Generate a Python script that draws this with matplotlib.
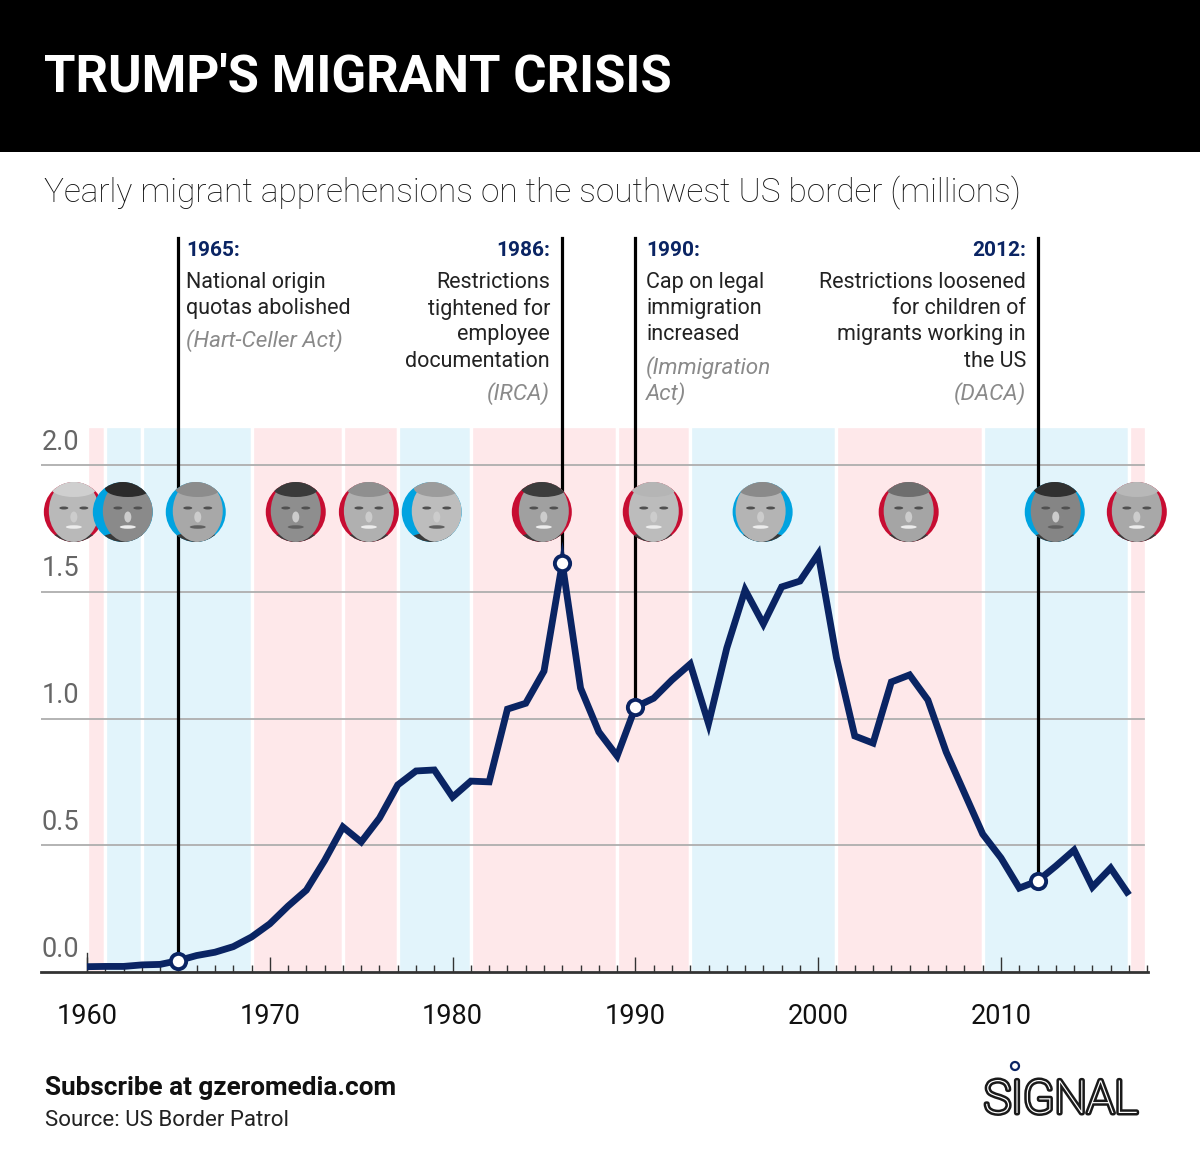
import matplotlib
matplotlib.use('Agg')
import matplotlib.pyplot as plt
from matplotlib import patheffects as pe
from matplotlib.patches import Circle, Ellipse, Rectangle
from matplotlib.transforms import IdentityTransform

# Apprehensions per year, millions
years = list(range(1960, 2018))
apprehensions = [0.021, 0.022, 0.022, 0.028, 0.030, 0.045, 0.065, 0.078, 0.100, 0.138,
                 0.190, 0.260, 0.323, 0.440, 0.572, 0.513, 0.607, 0.738, 0.793, 0.797,
                 0.690, 0.753, 0.750, 1.037, 1.060, 1.187, 1.613, 1.120, 0.947, 0.852,
                 1.045, 1.080, 1.152, 1.215, 0.980, 1.278, 1.507, 1.373, 1.519, 1.542,
                 1.649, 1.239, 0.931, 0.903, 1.144, 1.172, 1.073, 0.868, 0.706, 0.544,
                 0.450, 0.331, 0.359, 0.418, 0.481, 0.335, 0.410, 0.304]

# Presidential terms: start, end, party
term_start = [1960, 1961, 1963, 1969, 1974, 1977, 1981, 1989, 1993, 2001, 2009, 2017]
term_end = [1961, 1963, 1969, 1974, 1977, 1981, 1989, 1993, 2001, 2009, 2017, 2017.95]
term_party = ['R', 'D', 'D', 'R', 'R', 'D', 'R', 'R', 'D', 'R', 'D', 'R']

# Portrait discs, one per president
portrait_x = [1959.28, 1961.96, 1965.95, 1971.42, 1975.42, 1978.86, 1984.88, 1990.95, 1996.96, 2004.95, 2012.94, 2017.43]
portrait_party = ['R', 'D', 'D', 'R', 'R', 'D', 'R', 'R', 'D', 'R', 'D', 'R']
portrait_shift = [0, 5, 2, 0, 0, 5, 2, 1, -2, 0, 1, 0]
portrait_skin = ['#b9b9b9', '#8a8a8a', '#a8a8a8', '#8e8e8e', '#b0b0b0', '#bdbdbd', '#a0a0a0', '#bcbcbc', '#b4b4b4', '#a5a5a5', '#858585', '#a8a8a8']
portrait_hair = ['#cfcfcf', '#2b2b2b', '#8c8c8c', '#3a3a3a', '#8f8f8f', '#9c9c9c', '#3c3c3c', '#b5b5b5', '#8a8a8a', '#6e6e6e', '#303030', '#b8b8b8']

event_years = [1965, 1986, 1990, 2012]
event_values = [0.045, 1.613, 1.045, 0.359]
y_ticks = [0.0, 0.5, 1.0, 1.5, 2.0]
x_ticks = [1960, 1970, 1980, 1990, 2000, 2010]

band_red = '#fee8ea'
band_blue = '#e2f4fb'
disc_red = '#c70d32'
disc_blue = '#00a3e0'
navy = '#0a2463'

fig = plt.figure(figsize=(12, 11.76), dpi=100)
plt.rcParams['font.family'] = ['Roboto', 'DejaVu Sans']

# pixel calibration: 1960 at x=87, 18.28 px per year; 0.0 at y=972, 253.5 px per unit
ax = fig.add_axes([41 / 1200, 1 - 972 / 1176, (1148 - 41) / 1200, (972 - 425.5) / 1176])
x_left = 1960 - 46 / 18.28
ax.set_xlim(x_left, 1960 + (1148 - 87) / 18.28)
ax.set_ylim(0, (972 - 425.5) / 253.5)
ax.patch.set_alpha(0)

for start, end, party in zip(term_start, term_end, term_party):
    ax.axvspan(start, end, facecolor=band_red if party == 'R' else band_blue,
               edgecolor='white', linewidth=2.4, zorder=1)

for tick in y_ticks[1:]:
    ax.plot([x_left, 2017.85], [tick, tick], color='#aeaeae', lw=1.3, zorder=2)
for tick in y_ticks:
    ax.text(x_left + 0.02, tick + 0.09, f'{tick:.1f}', fontsize=19.5, color='#666666',
            ha='left', va='center', zorder=3)

for side in ['top', 'left', 'right']:
    ax.spines[side].set_visible(False)
ax.spines['bottom'].set_linewidth(2)
ax.spines['bottom'].set_color('#333333')
ax.set_yticks([])
ax.set_xticks(x_ticks)
ax.set_xticklabels([str(t) for t in x_ticks], fontsize=19.5, color='#111111')
ax.set_xticks(years[1:] + [2018], minor=True)
ax.tick_params(axis='x', which='major', direction='in', length=10.5, width=1, color='#333333', pad=22)
ax.tick_params(axis='x', which='minor', direction='in', length=5, width=1, color='#333333')
# first tick stands a bit taller than the other decades
ax.plot([1960, 1960], [0, 0.075], color='#333333', lw=1, zorder=3)

# event lines run up out of the axes, behind the portraits
for year, value in zip(event_years, event_values):
    ax.plot([year, year], [value, (972 - 238) / 253.5], color='black', lw=2.3, zorder=4, clip_on=False)

ax.plot(years, apprehensions, color=navy, lw=4.9, zorder=7, solid_joinstyle='miter', solid_capstyle='butt')
ax.plot(event_years, event_values, 'o', ms=11, mfc='white', mec=navy, mew=2.8, zorder=8, ls='none')

# stylised portraits, drawn in display pixels around each disc centre
for i, (year, party, shift, skin, hair) in enumerate(zip(portrait_x, portrait_party, portrait_shift, portrait_skin, portrait_hair)):
    cx, cy = ax.transData.transform((year, (972 - 512) / 253.5))
    disc = Circle((cx, cy), 30, facecolor=disc_red if party == 'R' else disc_blue,
                  edgecolor='none', transform=IdentityTransform(), zorder=5 + i * 0.01, clip_on=False)
    ax.add_patch(disc)
    z = 5 + i * 0.01 + 0.001
    hx = cx + shift
    parts = [
        Ellipse((cx + shift * 0.5, cy - 33), 60, 26, facecolor='#3a3a3a'),
        Ellipse((hx, cy + 1), 50, 62, facecolor=skin),
        Ellipse((hx, cy + 24), 46, 18, facecolor=hair),
        Ellipse((hx - 10, cy + 4), 9, 3, facecolor='#505050'),
        Ellipse((hx + 10, cy + 4), 9, 3, facecolor='#505050'),
        Ellipse((hx, cy - 5), 7, 11, facecolor='#cccccc'),
        Ellipse((hx, cy - 15), 16, 3.5, facecolor='#ececec' if i in (0, 1, 4, 6, 7, 8, 9, 11) else '#606060'),
    ]
    for part in parts:
        part.set_transform(IdentityTransform())
        part.set_edgecolor('none')
        part.set_zorder(z)
        ax.add_patch(part)
        part.set_clip_box(None)
        part.set_clip_path(disc)

# overlay in reference pixel coordinates for header and notes
ov = fig.add_axes([0, 0, 1, 1])
ov.set_xlim(0, 1200)
ov.set_ylim(1176, 0)
ov.axis('off')
ov.patch.set_alpha(0)
ov.add_patch(Rectangle((0, 0), 1200, 152, facecolor='black', edgecolor='none'))
ov.text(44, 77, "TRUMP'S MIGRANT CRISIS", color='white', fontsize=36.7, fontweight='bold', va='center', ha='left')
ov.text(44, 193, 'Yearly migrant apprehensions on the southwest US border (millions)',
        color='#111111', fontsize=24, fontweight='light', va='center', ha='left')

notes = [
    (186, 'left', '1965:', ['National origin', 'quotas abolished'], ['(Hart-Celler Act)'], 339),
    (550, 'right', '1986:', ['Restrictions', 'tightened for', 'employee', 'documentation'], ['(IRCA)'], 392),
    (646, 'left', '1990:', ['Cap on legal', 'immigration', 'increased'], ['(Immigration', 'Act)'], 366),
    (1026, 'right', '2012:', ['Restrictions loosened', 'for children of', 'migrants working in', 'the US'], ['(DACA)'], 392),
]
for x, align, head, body, source, source_y in notes:
    ov.text(x, 250, head, color=navy, fontsize=15, fontweight='bold', ha=align, va='center')
    for j, line in enumerate(body):
        ov.text(x, 282.5 + j * 26.2, line, color='#222222', fontsize=15.5, ha=align, va='center')
    for j, line in enumerate(source):
        ov.text(x, source_y + 1.5 + j * 26.2, line, color='#8a8a8a', fontsize=16.2, style='italic', ha=align, va='center')

ov.text(45, 1088, 'Subscribe at gzeromedia.com', color='#111111', fontsize=18.8, fontweight='bold', va='center')
ov.text(45, 1120, 'Source: US Border Patrol', color='#222222', fontsize=16, va='center')

ov.text(1061, 1100, 'SIGNAL', color='white', fontsize=33, fontweight=100, ha='center', va='center',
        path_effects=[pe.withStroke(linewidth=3.6, foreground='#1a1a1a')])
ov.add_patch(Circle((1015, 1066), 4, facecolor='white', edgecolor=navy, linewidth=1.6))

fig.savefig('out.png', dpi=100)
